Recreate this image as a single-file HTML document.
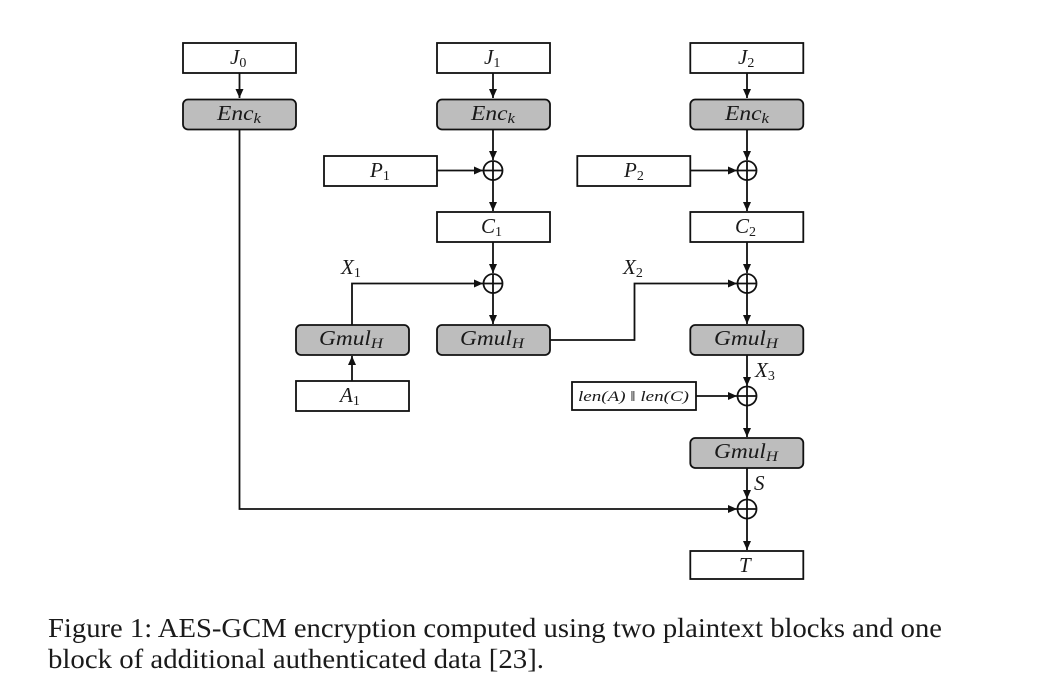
<!DOCTYPE html>
<html><head><meta charset="utf-8"><style>
html,body{margin:0;padding:0;background:#fff;width:1042px;height:700px;overflow:hidden}
svg{display:block}
.m{font-family:"Liberation Serif",serif;font-style:italic;font-size:21px;fill:#1a1a1a}
.s{font-style:normal;font-size:14px}
.si{font-style:italic;font-size:15px}
.c{font-family:"Liberation Serif",serif;font-size:27px;fill:#1a1a1a}
.b{fill:#fff;stroke:#111;stroke-width:1.8}
.g{fill:#bdbdbd;stroke:#111;stroke-width:1.8}
.l{fill:none;stroke:#111;stroke-width:1.8}
</style></head><body>
<svg width="1042" height="700" viewBox="0 0 1042 700" xmlns="http://www.w3.org/2000/svg">
<defs>
<marker id="a" markerUnits="userSpaceOnUse" markerWidth="12" markerHeight="12" refX="9.500" refY="6" orient="auto"><path d="M0.500 2 L9.500 6 L0.500 10 Z" fill="#111"/></marker>
</defs>

<!-- connectors -->
<path class="l" marker-end="url(#a)" d="M239.500 73V98"/>
<path class="l" marker-end="url(#a)" d="M493 73V98"/>
<path class="l" marker-end="url(#a)" d="M747 73V98"/>
<path class="l" marker-end="url(#a)" d="M493 129V160"/>
<path class="l" marker-end="url(#a)" d="M747 129V160"/>
<path class="l" marker-end="url(#a)" d="M437 170.500H483"/>
<path class="l" marker-end="url(#a)" d="M690 170.500H737"/>
<path class="l" marker-end="url(#a)" d="M493 180V211"/>
<path class="l" marker-end="url(#a)" d="M747 180V211"/>
<path class="l" marker-end="url(#a)" d="M493 242V273"/>
<path class="l" marker-end="url(#a)" d="M747 242V273"/>
<path class="l" marker-end="url(#a)" d="M352 325V283.500H483"/>
<path class="l" marker-end="url(#a)" d="M550 340H634.500V283.500H737"/>
<path class="l" marker-end="url(#a)" d="M493 293V324"/>
<path class="l" marker-end="url(#a)" d="M747 293V324"/>
<path class="l" marker-end="url(#a)" d="M352 381V356"/>
<path class="l" marker-end="url(#a)" d="M747 355V386"/>
<path class="l" marker-end="url(#a)" d="M696 396H737"/>
<path class="l" marker-end="url(#a)" d="M747 406V437"/>
<path class="l" marker-end="url(#a)" d="M747 468V499"/>
<path class="l" marker-end="url(#a)" d="M239.500 129V509H737"/>
<path class="l" marker-end="url(#a)" d="M747 519V550"/>

<!-- boxes -->
<rect class="b" x="183" y="43" width="113" height="30"/>
<rect class="b" x="437" y="43" width="113" height="30"/>
<rect class="b" x="690.300" y="43" width="113" height="30"/>
<rect class="g" x="183" y="99.500" width="113" height="30" rx="5"/>
<rect class="g" x="437" y="99.500" width="113" height="30" rx="5"/>
<rect class="g" x="690.300" y="99.500" width="113" height="30" rx="5"/>
<rect class="b" x="324" y="156" width="113" height="30"/>
<rect class="b" x="577.300" y="156" width="113" height="30"/>
<rect class="b" x="437" y="212" width="113" height="30"/>
<rect class="b" x="690.300" y="212" width="113" height="30"/>
<rect class="g" x="296" y="325" width="113" height="30" rx="5"/>
<rect class="g" x="437" y="325" width="113" height="30" rx="5"/>
<rect class="g" x="690.300" y="325" width="113" height="30" rx="5"/>
<rect class="b" x="296" y="381" width="113" height="30"/>
<rect class="b" x="572" y="382" width="124" height="28"/>
<rect class="g" x="690.300" y="438" width="113" height="30" rx="5"/>
<rect class="b" x="690.300" y="551" width="113" height="28"/>

<!-- xor -->
<circle class="b" cx="493" cy="170.500" r="9.500"/><path class="l" d="M483.500 170.500H502.500M493 161V180"/>
<circle class="b" cx="747" cy="170.500" r="9.500"/><path class="l" d="M737.500 170.500H756.500M747 161V180"/>
<circle class="b" cx="493" cy="283.500" r="9.500"/><path class="l" d="M483.500 283.500H502.500M493 274V293"/>
<circle class="b" cx="747" cy="283.500" r="9.500"/><path class="l" d="M737.500 283.500H756.500M747 274V293"/>
<circle class="b" cx="747" cy="396" r="9.500"/><path class="l" d="M737.500 396H756.500M747 386.500V405.500"/>
<circle class="b" cx="747" cy="509" r="9.500"/><path class="l" d="M737.500 509H756.500M747 499.500V518.500"/>

<!-- labels -->
<text class="m" x="230" y="64">J<tspan class="s" dy="3">0</tspan></text>
<text class="m" x="484" y="64">J<tspan class="s" dy="3">1</tspan></text>
<text class="m" x="738" y="64">J<tspan class="s" dy="3">2</tspan></text>
<text class="m" x="217" y="120" textLength="44" lengthAdjust="spacingAndGlyphs">Enc<tspan class="si" dy="3">k</tspan></text>
<text class="m" x="471" y="120" textLength="44" lengthAdjust="spacingAndGlyphs">Enc<tspan class="si" dy="3">k</tspan></text>
<text class="m" x="725" y="120" textLength="44" lengthAdjust="spacingAndGlyphs">Enc<tspan class="si" dy="3">k</tspan></text>
<text class="m" x="370" y="177">P<tspan class="s" dy="3">1</tspan></text>
<text class="m" x="624" y="177">P<tspan class="s" dy="3">2</tspan></text>
<text class="m" x="481" y="233">C<tspan class="s" dy="3">1</tspan></text>
<text class="m" x="735" y="233">C<tspan class="s" dy="3">2</tspan></text>
<text class="m" x="341" y="274">X<tspan class="s" dy="3">1</tspan></text>
<text class="m" x="623" y="274">X<tspan class="s" dy="3">2</tspan></text>
<text class="m" x="755" y="377">X<tspan class="s" dy="3">3</tspan></text>
<text class="m" x="319" y="345" textLength="64" lengthAdjust="spacingAndGlyphs">Gmul<tspan class="si" dy="3">H</tspan></text>
<text class="m" x="460" y="345" textLength="64" lengthAdjust="spacingAndGlyphs">Gmul<tspan class="si" dy="3">H</tspan></text>
<text class="m" x="714" y="345" textLength="64" lengthAdjust="spacingAndGlyphs">Gmul<tspan class="si" dy="3">H</tspan></text>
<text class="m" x="714" y="458" textLength="64" lengthAdjust="spacingAndGlyphs">Gmul<tspan class="si" dy="3">H</tspan></text>
<text class="m" x="340" y="402">A<tspan class="s" dy="3">1</tspan></text>
<text class="m" x="578" y="401" style="font-size:14.500px" textLength="111" lengthAdjust="spacingAndGlyphs">len(A) <tspan font-style="normal">‖</tspan> len(C)</text>
<text class="m" x="754" y="490">S</text>
<text class="m" x="739" y="572">T</text>

<!-- caption -->
<text class="c" x="48" y="637" textLength="894" lengthAdjust="spacingAndGlyphs">Figure 1: AES-GCM encryption computed using two plaintext blocks and one</text>
<text class="c" x="48" y="668" textLength="496" lengthAdjust="spacingAndGlyphs">block of additional authenticated data [23].</text>
</svg>
</body></html>
